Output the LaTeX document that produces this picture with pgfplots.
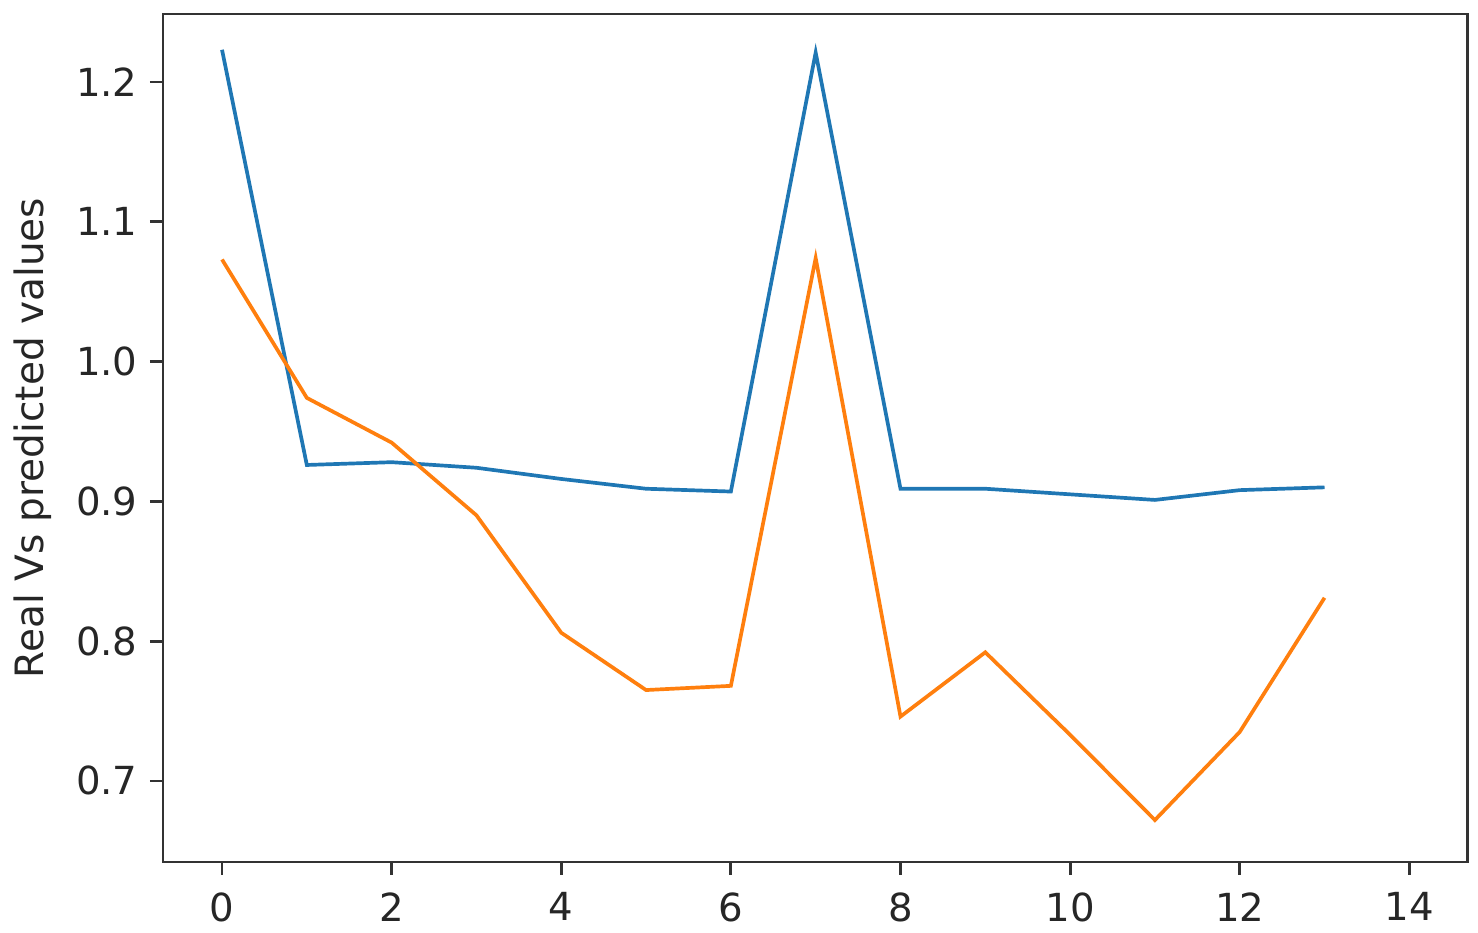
\documentclass[border=0pt]{standalone}
\usepackage{fontspec}
\setmainfont{DejaVu Sans}
\usepackage{pgfplots}
\pgfplotsset{compat=1.18}
\definecolor{mplblue}{HTML}{1F77B4}
\definecolor{mplorange}{HTML}{FF7F0E}
\begin{document}
\begin{tikzpicture}
\useasboundingbox (-1.63cm,-0.71cm) rectangle (13.15cm,8.62cm);
\begin{axis}[
  at={(0,0)}, anchor=south west,
  scale only axis, width=13.04cm, height=8.48cm,
  xmin=-0.696, xmax=14.68, ymin=0.642, ymax=1.2486,
  xtick={0,2,...,14}, ytick={0.7,0.8,0.9,1.0,1.1,1.2},
  yticklabel style={/pgf/number format/.cd, fixed, fixed zerofill, precision=1},
  /pgf/number format/assume math mode=true,
  tick align=outside, tick pos=left,
  major tick length=0.13cm,
  tick style={line width=0.8pt, black!80},
  axis line style={line width=0.85pt, black!80},
  ticklabel style={font=\fontsize{11}{13}\selectfont, text=black!85},
  every axis y label/.style={at={(ticklabel cs:0.5)}, rotate=90, anchor=near ticklabel,
    font=\fontsize{11.1}{13}\selectfont, text=black!85},
  ylabel={Real Vs predicted values},
  xticklabel style={yshift=-0.05cm},
  clip=false,
]
\addplot[mplblue, line width=1.05pt] coordinates {
(0,1.223) (1,0.926) (2,0.928) (3,0.924) (4,0.916) (5,0.909) (6,0.907)
(7,1.221) (8,0.909) (9,0.909) (10,0.905) (11,0.901) (12,0.908) (13,0.910)};
\addplot[mplorange, line width=1.05pt] coordinates {
(0,1.073) (1,0.974) (2,0.942) (3,0.890) (4,0.806) (5,0.765) (6,0.768)
(7,1.074) (8,0.746) (9,0.792) (10,0.733) (11,0.672) (12,0.735) (13,0.831)};
\end{axis}
\end{tikzpicture}
\end{document}
